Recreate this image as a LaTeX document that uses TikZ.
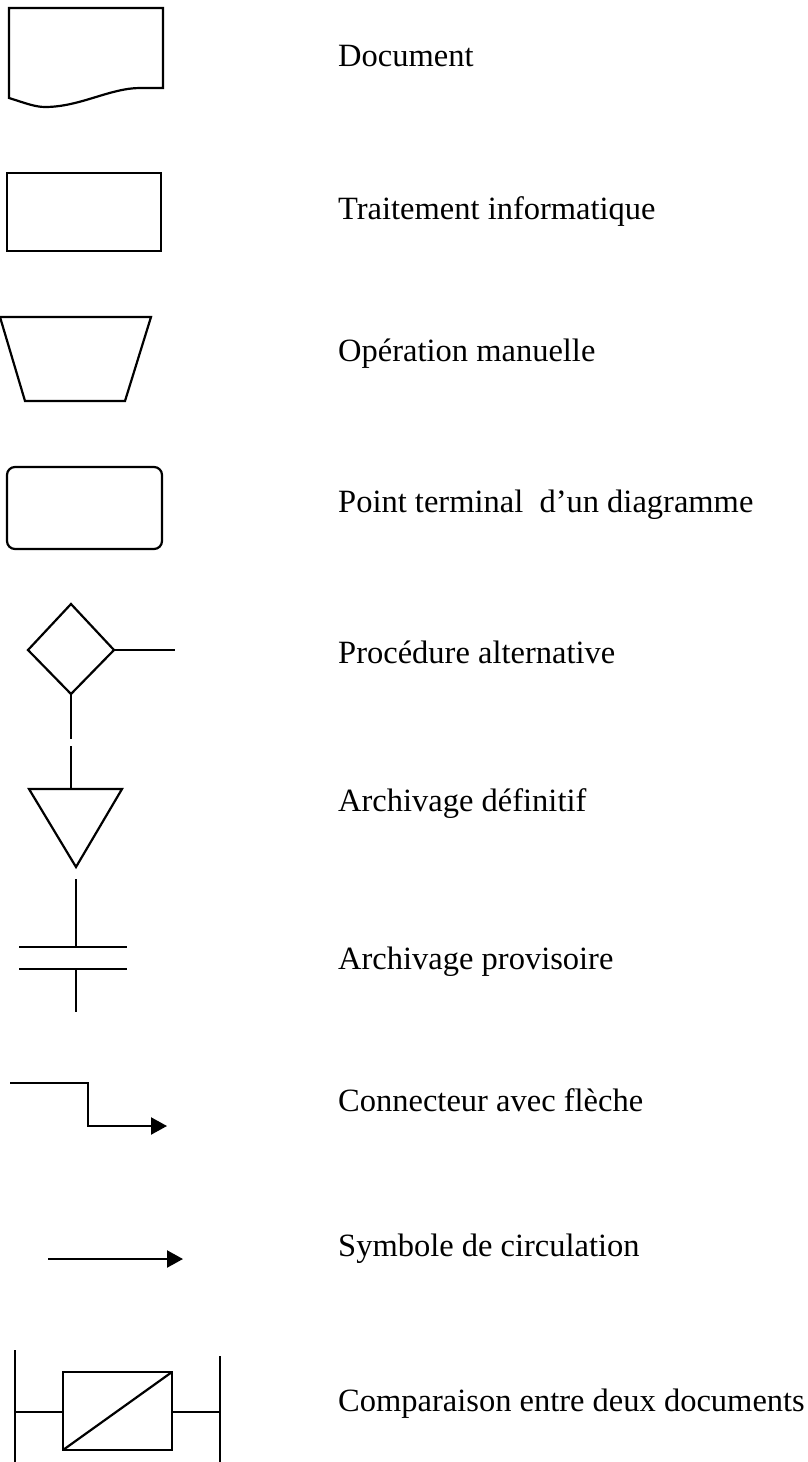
\documentclass[tikz,border=0pt]{standalone}
\usepackage{fontspec}
\setmainfont{Liberation Serif}
\usetikzlibrary{arrows.meta}
\begin{document}
\begin{tikzpicture}[x=1pt,y=-1pt,
  sym/.style={draw=black, line width=2.2pt, line join=miter},
  lbl/.style={anchor=base west, inner sep=0pt, font=\fontsize{32.5}{39}\selectfont},
  tip/.style={-{Triangle[length=16pt,width=17pt]}}]
\useasboundingbox[fill=white] (0,0) rectangle (807,1462);

% Document
\draw[sym] (9,98) .. controls (25,103) and (35,107) .. (45,107)
  .. controls (80,107) and (110,88) .. (140,88) -- (163,88) -- (163,8) -- (9,8) -- cycle;
\node[lbl] (tDoc) at (338,66) {Document};

% Traitement informatique
\draw[sym] (7,173) rectangle (161,251);
\node[lbl] (tTrt) at (338,219) {Traitement informatique};

% Operation manuelle
\draw[sym] (0,317) -- (151,317) -- (125,401) -- (25,401) -- cycle;
\node[lbl] (tOp) at (338,361) {Opération manuelle};

% Point terminal
\draw[sym, rounded corners=8pt] (7,467) rectangle (162,549);
\node[lbl] (tTerm) at (338,512) {Point terminal \ d’un diagramme};

% Procedure alternative
\coordinate (dT) at (71,604);
\coordinate (dL) at (28,650);
\coordinate (dR) at (114,650);
\coordinate (dB) at (71,694);
\coordinate (dE) at (175,650);
\draw[sym] (dT) -- (dR) -- (dB) -- (dL) -- cycle;
\draw[sym] (dR) -- (dE);
\node[lbl] (tAlt) at (338,663) {Procédure alternative};

% Archivage definitif
\coordinate (gapA) at (71,739);
\coordinate (gapB) at (71,746);
\coordinate (tTop) at (71,789);
\draw[sym] (dB) -- (gapA);
\draw[sym] (gapB) -- (tTop);
\draw[sym] (29,789) -- (122,789) -- (76,867) -- cycle;
\node[lbl] (tDef) at (338,811) {Archivage définitif};

% Archivage provisoire
\coordinate (pA) at (76,879);
\coordinate (pB) at (76,947);
\coordinate (pC) at (76,969);
\coordinate (pD) at (76,1012);
\draw[sym] (pA) -- (pB);
\draw[sym] (19,947) -- (127,947);
\draw[sym] (19,969) -- (127,969);
\draw[sym] (pC) -- (pD);
\node[lbl] (tProv) at (338,969) {Archivage provisoire};

% Connecteur avec fleche
\coordinate (cA) at (10,1083);
\coordinate (cB) at (88,1083);
\coordinate (cC) at (88,1126);
\coordinate (cD) at (167,1126);
\draw[sym, tip] (cA) -- (cB) -- (cC) -- (cD);
\node[lbl] (tCon) at (338,1111) {Connecteur avec flèche};

% Symbole de circulation
\coordinate (fA) at (48,1259);
\coordinate (fB) at (183,1259);
\draw[sym, tip] (fA) -- (fB);
\node[lbl] (tCirc) at (338,1256) {Symbole de circulation};

% Comparaison entre deux documents
\coordinate (lL) at (15,1412);
\coordinate (lR) at (220,1412);
\draw[sym] (15,1350) -- (15,1462);
\draw[sym] (220,1356) -- (220,1462);
\draw[sym] (63,1372) rectangle (172,1450);
\draw[sym] (63,1450) -- (172,1372);
\draw[sym] (lL) -- (63,1412);
\draw[sym] (172,1412) -- (lR);
\node[lbl] (tCmp) at (338,1411) {Comparaison entre deux documents};
\end{tikzpicture}
\end{document}
